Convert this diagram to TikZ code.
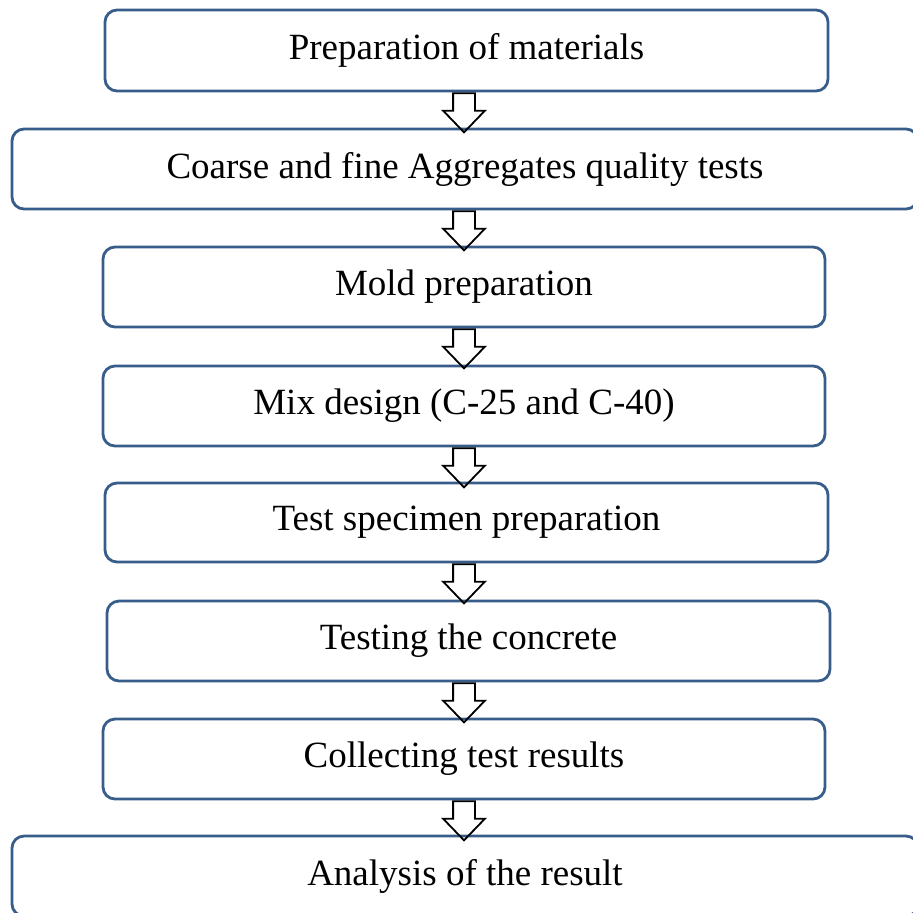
\documentclass[tikz,border=0pt]{standalone}
\usepackage{fontspec}
\setmainfont{Liberation Serif}
\usetikzlibrary{shapes.arrows,calc}
\definecolor{boxblue}{RGB}{56,93,138}

\begin{document}
\begin{tikzpicture}[x=0.5pt, y=-0.5pt,
  stepbox/.style={draw=boxblue, line width=1.4pt, rounded corners=6pt,
                  inner sep=0pt, font=\fontsize{18.5}{22}\selectfont},
  flowarrow/.style={draw=black, line width=0.9pt, single arrow, shape border rotate=270,
                    single arrow head extend=5pt, single arrow tip angle=88,
                    minimum height=19.5pt, inner sep=5pt, anchor=tail}]
\useasboundingbox (0,0) rectangle (913,912);

% boxes
\node[stepbox, minimum width=361.5pt, minimum height=40.5pt] (b1) at (466.5, 50.5) {Preparation of materials};
\node[stepbox, minimum width=453pt,   minimum height=40pt]   (b2) at (465, 169)    {Coarse and fine Aggregates quality tests};
\node[stepbox, minimum width=361pt,   minimum height=40pt]   (b3) at (464, 287)    {Mold preparation};
\node[stepbox, minimum width=361pt,   minimum height=40pt]   (b4) at (464, 406)    {Mix design (C-25 and C-40)};
\node[stepbox, minimum width=361.5pt, minimum height=39.5pt] (b5) at (466.5,522.5) {Test specimen preparation};
\node[stepbox, minimum width=361.5pt, minimum height=40pt]   (b6) at (468.5,641)   {Testing the concrete};
\node[stepbox, minimum width=361pt,   minimum height=40pt]   (b7) at (464, 759)    {Collecting test results};
\node[stepbox, minimum width=453pt,   minimum height=40pt]   (b8) at (465, 876)    {Analysis of the result};

% arrows
\node[flowarrow] (a1) at (b1.south -| b7.south) {};
\node[flowarrow] (a2) at (b2.south -| b7.south) {};
\node[flowarrow] (a3) at (b3.south -| b7.south) {};
\node[flowarrow] (a4) at (b4.south -| b7.south) {};
\node[flowarrow] (a5) at (b5.south -| b7.south) {};
\node[flowarrow] (a6) at (b6.south -| b7.south) {};
\node[flowarrow] (a7) at (b7.south) {};
\end{tikzpicture}
\end{document}
